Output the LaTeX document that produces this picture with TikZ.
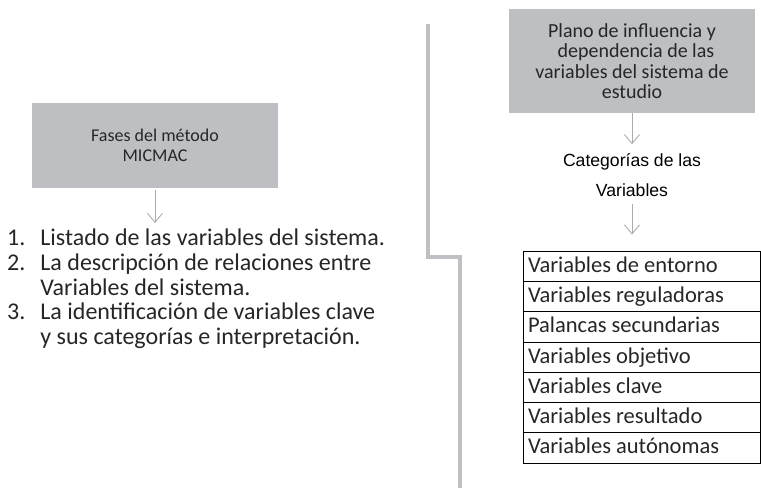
\documentclass[tikz,border=0pt]{standalone}
\usepackage{fontspec}
\setmainfont{Carlito}
\newfontfamily\arialfont{Liberation Sans}
\usetikzlibrary{arrows.meta}
\usetikzlibrary{positioning}

\definecolor{cajagris}{RGB}{190,191,194}
\definecolor{lineagris}{RGB}{192,192,196}
\definecolor{flechagris}{RGB}{172,172,176}
\definecolor{textogris}{RGB}{38,38,38}

\begin{document}
\begin{tikzpicture}[x=1pt,y=-1pt,
	caja/.style={fill=cajagris,minimum width=246pt,align=center,inner sep=0pt,text=textogris},
	flecha/.style={draw=flechagris,line width=0.9pt,-{Straight Barb[length=9pt,width=15pt]}},
	fila/.style={draw=black,line width=0.8pt,minimum width=237pt,minimum height=30.3pt,inner xsep=5pt,inner ysep=3pt,text height=16pt,text depth=4pt,text=textogris,font=\fontsize{22.5}{24}\selectfont}]
	\useasboundingbox (0,0) rectangle (761,488);
	% left part
	\node[caja,minimum height=85pt,font=\fontsize{18}{20}\selectfont] (fases) at (155,145.5) {Fases del método\\MICMAC};
	\node[anchor=north west,inner sep=0pt,text=textogris,font=\fontsize{24}{24.8}\selectfont] (lista) at (7,228) {\begin{tabular}{@{}l@{\hspace{15pt}}l@{}}
		1. & Listado de las variables del sistema.\\
		2. & La descripción de relaciones entre\\
		   & Variables del sistema.\\
		3. & La identificación de variables clave\\
		   & y sus categorías e interpretación.
	\end{tabular}};
	\draw[flecha,shorten <=2pt,shorten >=5pt] (fases.south) -- (fases.south |- lista.north);
	% separator
	\draw[lineagris,line width=3.5pt] (428,24) -- (428,257) -- (460,257) -- (460,488);
	% right part
	\node[caja,minimum height=104pt,font=\fontsize{20}{20.5}\selectfont] (plano) at (632,61) {Plano de influencia y\\\hspace*{0.4em}dependencia de las\\variables del sistema de\\estudio};
	\node[inner sep=0pt,align=center,font=\arialfont\fontsize{17.6}{30}\selectfont] (categ) at (632,175) {Categorías de las\\Variables};
	\foreach \txt [count=\i] in {Variables de entorno,Variables reguladoras,Palancas secundarias,Variables objetivo,Variables clave,Variables resultado,Variables autónomas}
		\node[fila] (v\i) at (641.5,{251+30.3*\i-15.15}) {\makebox[227pt][l]{\txt}};
	\draw[flecha,shorten >=9pt] (plano.south) -- (categ.north);
	\draw[flecha,shorten <=7pt,shorten >=16pt] (categ.south) -- (categ.south |- v1.north);
\end{tikzpicture}
\end{document}
